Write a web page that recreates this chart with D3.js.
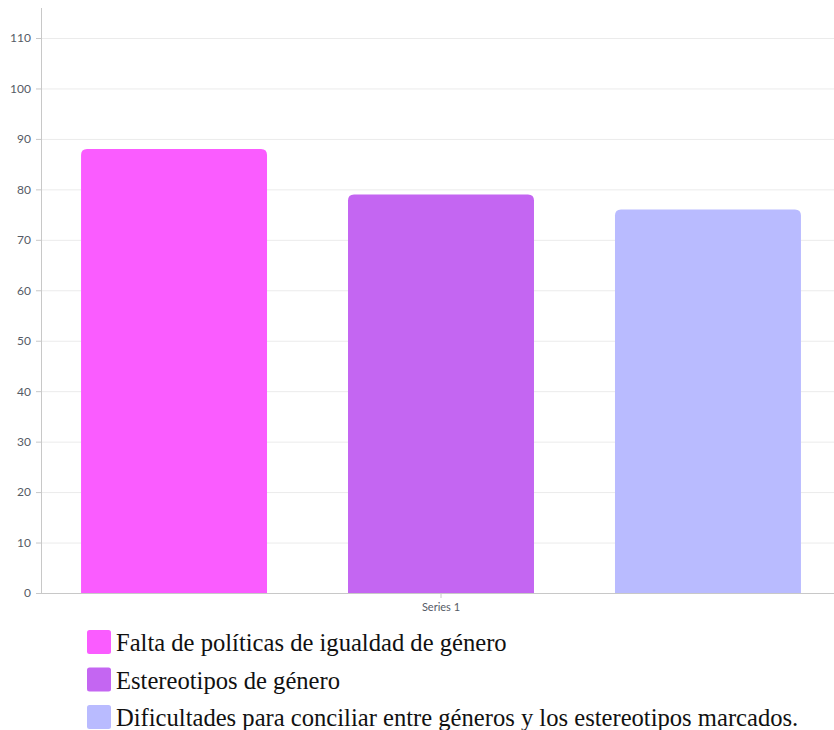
<!DOCTYPE html>
<html>
<head>
<meta charset="utf-8">
<script src="https://cdn.jsdelivr.net/npm/d3@7"></script>
<style>
  html, body { margin: 0; padding: 0; background: #fff; }
  svg { display: block; }
</style>
</head>
<body>
<svg id="chart" width="834" height="730"></svg>
<script>
// Chart data
const categories = [
  "Falta de políticas de igualdad de género",
  "Estereotipos de género",
  "Dificultades para conciliar entre géneros y los estereotipos marcados."
];
const values = [88, 79, 76];
const colors = ["#fa5cff", "#c466f2", "#b9bbff"];
const seriesLabel = "Series 1";
const yTicks = [0, 10, 20, 30, 40, 50, 60, 70, 80, 90, 100, 110];

(function () {
  const svg = d3.select("#chart");
  const plotLeft = 41, plotRight = 841, plotTop = 8, plotBottom = 593;

  const y = d3.scaleLinear().domain([0, 110]).range([plotBottom, 38]);
  const x = d3.scaleBand().domain(categories).range([plotLeft, plotRight])
    .paddingInner(0.3034).paddingOuter(0.15);

  // Horizontal gridlines
  svg.append("g").selectAll("line").data(yTicks.filter(d => d > 0)).join("line")
    .attr("x1", plotLeft).attr("x2", 834)
    .attr("y1", d => y(d) + 0.5).attr("y2", d => y(d) + 0.5)
    .attr("stroke", "#ebebeb").attr("stroke-width", 1);

  // Y axis
  const yAxis = svg.append("g").attr("transform", `translate(${plotLeft},0)`)
    .call(d3.axisLeft(y).tickValues(yTicks).tickSize(5).tickPadding(5));
  yAxis.select(".domain").remove();
  yAxis.selectAll(".tick line").attr("stroke", "#c8c8c8");
  yAxis.selectAll(".tick text")
    .attr("font-family", "Lato, sans-serif").attr("font-size", 12).attr("fill", "#555b66");
  svg.append("line").attr("x1", plotLeft + 0.5).attr("x2", plotLeft + 0.5)
    .attr("y1", plotTop).attr("y2", plotBottom).attr("stroke", "#c8c8c8");

  // Bars with rounded top corners
  const r = 6;
  function barPath(x0, w, yTop, yBase) {
    return `M${x0},${yBase} V${yTop + r} Q${x0},${yTop} ${x0 + r},${yTop} H${x0 + w - r} Q${x0 + w},${yTop} ${x0 + w},${yTop + r} V${yBase} Z`;
  }
  svg.append("g").selectAll("path").data(categories).join("path")
    .attr("d", (d, i) => barPath(x(d), x.bandwidth(), y(values[i]), y(0)))
    .attr("fill", (d, i) => colors[i]);

  // Bottom axis
  svg.append("line").attr("x1", plotLeft).attr("x2", 834)
    .attr("y1", plotBottom + 0.5).attr("y2", plotBottom + 0.5).attr("stroke", "#c8c8c8");
  const cx = (plotLeft + plotRight) / 2;
  svg.append("line").attr("x1", cx).attr("x2", cx)
    .attr("y1", plotBottom).attr("y2", plotBottom + 5).attr("stroke", "#c8c8c8");
  svg.append("text").attr("x", cx).attr("y", plotBottom + 18)
    .attr("text-anchor", "middle").attr("font-family", "Lato, sans-serif")
    .attr("font-size", 11).attr("fill", "#555b66").text(seriesLabel);

  // Legend
  const legend = svg.append("g").selectAll("g").data(categories).join("g")
    .attr("transform", (d, i) => `translate(87,${630 + i * 37.5})`);
  legend.append("rect").attr("width", 24).attr("height", 24).attr("rx", 2.5)
    .attr("fill", (d, i) => colors[i]);
  legend.append("text").attr("x", 29).attr("y", 21)
    .attr("font-family", "'Liberation Serif', 'Times New Roman', serif")
    .attr("font-size", 24.6).attr("fill", "#111").text(d => d);
})();
</script>
</body>
</html>
